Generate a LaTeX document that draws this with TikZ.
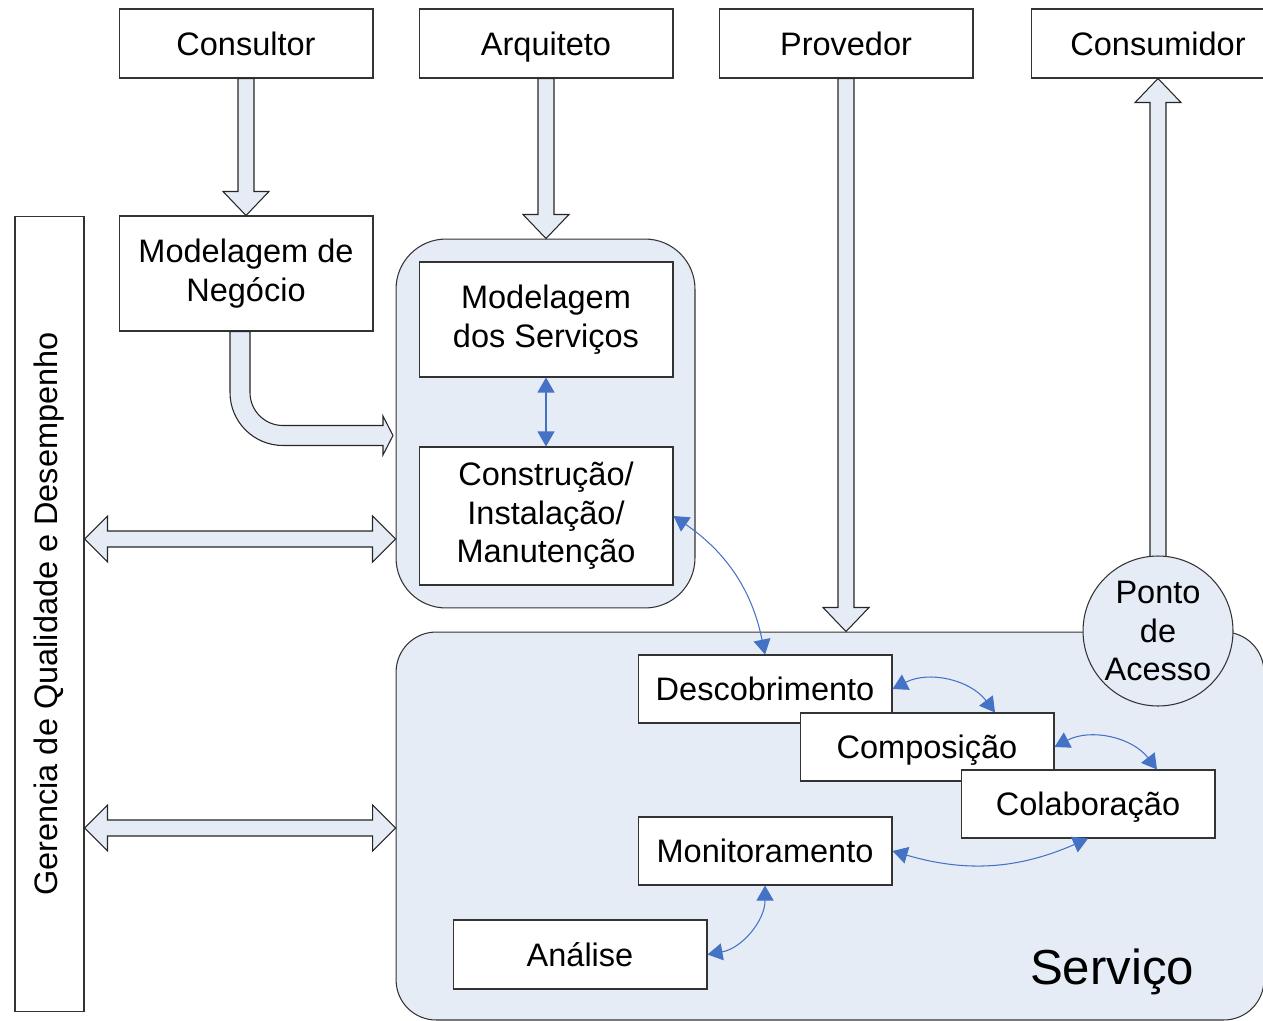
\documentclass[tikz,border=0pt]{standalone}
\usepackage{fontspec}
\setmainfont{Liberation Sans}
\usetikzlibrary{arrows.meta,calc}
\definecolor{servfill}{RGB}{229,236,246}
\definecolor{linkblue}{RGB}{68,114,196}

\begin{document}
\begin{tikzpicture}[x=0.02cm, y=0.02cm,
	box/.style={draw=black!80, fill=white, line width=0.6pt, minimum width=5.08cm, minimum height=1.38cm, inner sep=0pt, align=center, font=\fontsize{18.5}{22}\selectfont},
	oneline/.style={text height=13.3pt, text depth=0pt},
	region/.style={draw=black!80, fill=servfill, line width=0.6pt, rounded corners=1cm},
	blockarrow/.style={draw=black!85, fill=servfill, line width=0.6pt},
	link/.style={draw=linkblue, line width=0.6pt, {Triangle[length=0.3cm,width=0.34cm]}-{Triangle[length=0.3cm,width=0.34cm]}}]
		\useasboundingbox (0,0) rectangle (1263,-1020);
		
		\node[region, minimum width=5.98cm, minimum height=7.38cm] (servreg) at (545.5,-423.5) {};
		\node[region, rounded corners=0.8cm, minimum width=17.36cm, minimum height=7.76cm] (servico) at (830,-826) {};
		\node[font=\fontsize{28}{32}\selectfont] (servlabel) at (1112,-972) {Serviço};
		
		\foreach \n/\x/\t in {cons/246/Consultor, arq/546/Arquiteto, prov/846/Provedor, consu/1158/Consumidor}
		{
			\node[box, oneline] (\n) at (\x,-43.5) {\t};
		}
		
		\node[box, minimum height=2.3cm] (negocio) at (246,-273.5) {Modelagem de\\Negócio};
		\node[box, minimum height=2.3cm] (modserv) at (546,-319.5) {Modelagem\\dos Serviços};
		\node[box, minimum height=2.76cm] (constr) at (546,-516) {Construção/\\Instalação/\\Manutenção};
		\node[box, rotate=90, minimum width=15.92cm] (gerencia) at (49.5,-614) {Gerencia de Qualidade e Desempenho};
		
		\node[box, oneline, minimum height=1.36cm] (desc) at (765,-689) {Descobrimento};
		\node[box, oneline, minimum height=1.36cm] (comp) at (927,-747) {Composição};
		\node[box, oneline, minimum height=1.36cm] (colab) at (1088,-804) {Colaboração};
		\node[box, oneline, minimum height=1.36cm] (monit) at (765,-851) {Monitoramento};
		\node[box, oneline] (anal) at (580,-954.5) {Análise};
		
		\foreach \a/\b in {cons/negocio, arq/servreg, prov/servico}
		{
			\draw[blockarrow] ($(\a.south)+(-8,0)$) -- ($(\a.south |- \b.north)+(-8,24)$) -- ++(-15,0) -- (\a.south |- \b.north) -- ++(23,24) -- ++(-15,0) -- ($(\a.south)+(8,0)$) -- cycle;
		}
		\draw[blockarrow] ($(negocio.south)+(-16,0)$) -- ++(0,-61) arc[start angle=180, end angle=270, radius=1.06cm] -- ++(100,0) -- ++(0,-9.5) -- ++(10,19.5) -- ++(-10,19.5) -- ++(0,-9.5) -- ++(-100,0) arc[start angle=270, end angle=180, radius=0.66cm] -- ($(negocio.south)+(4,0)$) -- cycle;
		
		\coordinate (q1) at ($(servreg.west)+(0,-115.5)$);
		\coordinate (q2) at ($(servico.west)+(0,-2)$);
		\foreach \c in {q1, q2}
		{
			\draw[blockarrow] (gerencia.south |- \c) -- ++(23,23) -- ++(0,-15) -- ($(\c)+(-23,8)$) -- ++(0,15) -- (\c) -- ++(-23,-23) -- ++(0,15) -- ($(gerencia.south |- \c)+(23,-8)$) -- ++(0,-15) -- cycle;
		}
		
		\draw[blockarrow] ($(consu.south |- 0,-560)+(-8,0)$) -- ($(consu.south)+(-8,-24)$) -- ++(-15,0) -- (consu.south) -- ++(23,-24) -- ++(-15,0) -- ($(consu.south |- 0,-560)+(8,0)$) -- cycle;
		\node[circle, draw=black!80, fill=servfill, line width=0.6pt, minimum size=3cm, inner sep=0pt, align=center, font=\fontsize{18.5}{22}\selectfont] (ponto) at (1158,-631) {Ponto\\de\\Acesso};
		
		\draw[link] (modserv) -- (constr);
		\draw[link] (constr.east) to[bend left=22] (desc.north);
		\draw[link] (desc.east) to[bend left=40] ($(comp.north)+(68,0)$);
		\draw[link] (comp.east) to[bend left=40] ($(colab.north)+(69,0)$);
		\draw[link] (colab.south) to[bend left=20] (monit.east);
		\draw[link] (monit.south) to[bend left=40] (anal.east);
	\end{tikzpicture}
\end{document}
